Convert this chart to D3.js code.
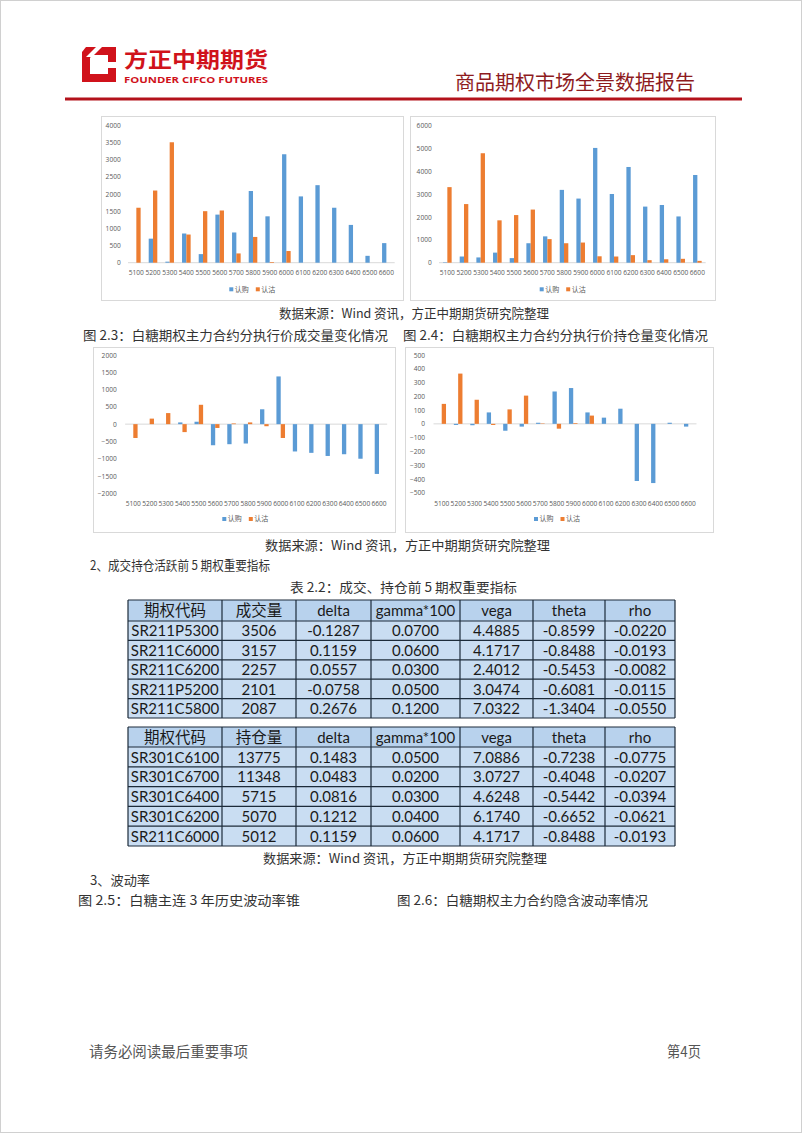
<!DOCTYPE html>
<html><head><meta charset="utf-8">
<script src="https://cdn.jsdelivr.net/npm/d3@7"></script>
<style>
html,body{margin:0;padding:0;background:#fff;}
svg{display:block;}
</style></head>
<body>
<script>
// ---------- DATA ----------
const strikes = ["5100","5200","5300","5400","5500","5600","5700","5800","5900","6000","6100","6200","6300","6400","6500","6600"];
// Fig 2.3 volume by strike
const volCall = [0,700,30,850,250,1400,880,2087,1350,3157,1930,2257,1600,1100,200,570];
const volPut  = [1600,2101,3506,820,1500,1520,270,750,20,340,0,0,0,0,0,0];
// Fig 2.4 open interest by strike
const oiCall = [20,270,230,440,200,850,1150,3180,2800,5012,3000,4180,2450,2520,2020,3830];
const oiPut  = [3300,2560,4780,1850,2080,2320,1030,850,880,280,270,330,110,150,170,80];
// Fig 2.3 change (volume change)
const volChgCall = [0,0,0,50,70,-610,-580,-560,430,1380,-790,-830,-920,-870,-1000,-1440];
const volChgPut  = [-400,160,320,-230,560,-110,20,50,-60,-400,0,0,0,0,0,0];
// Fig 2.4 change (open interest change)
const oiChgCall = [0,-8,-10,83,-50,-20,8,235,260,83,45,110,-415,-430,8,-20];
const oiChgPut  = [145,365,175,-8,105,205,3,-35,5,60,0,0,0,0,0,0];
const seriesNames = ["认购","认沽"];
const ticksVol = [0,500,1000,1500,2000,2500,3000,3500,4000];
const ticksOi = [0,1000,2000,3000,4000,5000,6000];
const ticksVolChg = [-2000,-1500,-1000,-500,0,500,1000,1500,2000];
const ticksOiChg = [-500,-400,-300,-200,-100,0,100,200,300,400,500];

// Tables
const tableColsA = ["期权代码","成交量","delta","gamma*100","vega","theta","rho"];
const tableRowsA = [
  ["SR211P5300","3506","-0.1287","0.0700","4.4885","-0.8599","-0.0220"],
  ["SR211C6000","3157","0.1159","0.0600","4.1717","-0.8488","-0.0193"],
  ["SR211C6200","2257","0.0557","0.0300","2.4012","-0.5453","-0.0082"],
  ["SR211P5200","2101","-0.0758","0.0500","3.0474","-0.6081","-0.0115"],
  ["SR211C5800","2087","0.2676","0.1200","7.0322","-1.3404","-0.0550"]
];
const tableColsB = ["期权代码","持仓量","delta","gamma*100","vega","theta","rho"];
const tableRowsB = [
  ["SR301C6100","13775","0.1483","0.0500","7.0886","-0.7238","-0.0775"],
  ["SR301C6700","11348","0.0483","0.0200","3.0727","-0.4048","-0.0207"],
  ["SR301C6400","5715","0.0816","0.0300","4.6248","-0.5442","-0.0394"],
  ["SR301C6200","5070","0.1212","0.0400","6.1740","-0.6652","-0.0621"],
  ["SR211C6000","5012","0.1159","0.0600","4.1717","-0.8488","-0.0193"]
];

// ---------- DRAW ----------
const W = 802, H = 1133;
const svg = d3.select("body").append("svg").attr("width", W).attr("height", H);
const CJK = "'Noto Sans CJK SC','Noto Sans',sans-serif";
const BLUE = "#5B9BD5", ORANGE = "#ED7D31";

svg.append("rect").attr("x",0.5).attr("y",0.5).attr("width",W-1).attr("height",H-1)
  .attr("fill","none").attr("stroke","#d0d0d0");

// Header
const logo = svg.append("g");
logo.append("path").attr("d","M86,47 L116,47 L116,82 L82,82 L82,52 Z").attr("fill","#d0121b");
logo.append("path").attr("d","M92,55 L108,55 L108,74 L90,74 L90,58 Z").attr("fill","#fff");
logo.append("path").attr("d","M96,47 L102,47 L92,57 L86,57 Z").attr("fill","#fff");
logo.append("path").attr("d","M108,62 L116,62 L116,68 L108,68 Z").attr("fill","#fff");
svg.append("text").attr("x",124).attr("y",66.5).attr("font-family",CJK).attr("font-weight",700)
  .attr("font-size",21).attr("fill","#d0121b").attr("textLength",144).attr("lengthAdjust","spacingAndGlyphs").text("方正中期期货");
svg.append("text").attr("x",124).attr("y",83).attr("font-family","'Open Sans',sans-serif").attr("font-weight",700)
  .attr("font-size",9.5).attr("fill","#d0121b").attr("textLength",144).attr("lengthAdjust","spacingAndGlyphs").text("FOUNDER CIFCO FUTURES");
svg.append("text").attr("x",695).attr("y",90).attr("text-anchor","end").attr("font-family",CJK)
  .attr("font-size",20).attr("fill","#8e1b1e").text("商品期权市场全景数据报告");
svg.append("rect").attr("x",65).attr("y",97.5).attr("width",677).attr("height",3).attr("fill","#b3121b");

// Chart builder
function barChart(o){
  const g = svg.append("g");
  g.append("rect").attr("x",o.box[0]+0.5).attr("y",o.box[1]+0.5).attr("width",o.box[2]-o.box[0])
    .attr("height",o.box[3]-o.box[1]).attr("fill","#fff").attr("stroke","#d9d9d9");
  const x = d3.scaleBand().domain(strikes).range(o.xr).padding(0);
  const y = d3.scaleLinear().domain(o.yd).range(o.yr);
  const bw = 4.3;
  g.append("line").attr("x1",o.xr[0]).attr("x2",o.xr[1]).attr("y1",y(0)).attr("y2",y(0))
    .attr("stroke","#d9d9d9").attr("stroke-width",1);
  const data = strikes.map((s,i)=>({s, c:o.call[i], p:o.put[i]}));
  g.selectAll(".bc").data(data).join("rect")
    .attr("x",d=>x(d.s)+x.bandwidth()/2-bw).attr("width",bw)
    .attr("y",d=>Math.min(y(d.c),y(0))).attr("height",d=>Math.abs(y(d.c)-y(0)))
    .attr("fill",BLUE);
  g.selectAll(".bp").data(data).join("rect")
    .attr("x",d=>x(d.s)+x.bandwidth()/2).attr("width",bw)
    .attr("y",d=>Math.min(y(d.p),y(0))).attr("height",d=>Math.abs(y(d.p)-y(0)))
    .attr("fill",ORANGE);
  const ya = d3.axisLeft(y).tickValues(o.ticks).tickFormat(d3.format("d")).tickSize(0).tickPadding(0);
  const yg = g.append("g").attr("transform",`translate(${o.yLabX},0)`).call(ya);
  yg.select(".domain").remove();
  yg.selectAll("text").attr("font-family","'Open Sans',sans-serif").attr("font-size",6.6).attr("fill","#595959");
  const xa = d3.axisBottom(x).tickSize(0).tickPadding(0);
  const xg = g.append("g").attr("transform",`translate(0,${o.xLabY})`).call(xa);
  xg.select(".domain").remove();
  xg.selectAll("text").attr("font-family","'Open Sans',sans-serif").attr("font-size",6.6).attr("fill","#595959").attr("dy","0.35em");
  const lg = g.append("g").attr("transform",`translate(${o.leg[0]},${o.leg[1]})`);
  [BLUE,ORANGE].forEach((c,i)=>{
    lg.append("rect").attr("x",i*26.5-2).attr("y",-2).attr("width",4).attr("height",4).attr("fill",c);
    lg.append("text").attr("x",i*26.5+3.5).attr("y",0).attr("dy","0.35em").attr("font-family",CJK)
      .attr("font-size",7).attr("fill","#595959").text(seriesNames[i]);
  });
}

barChart({box:[101,116,403,300], xr:[128,394.7], yd:[0,4000], yr:[262.7,125.3], ticks:ticksVol,
  call:volCall, put:volPut, yLabX:120.7, xLabY:272.7, leg:[231.3,289.3]});
barChart({box:[410,116,715,300], xr:[439,705.7], yd:[0,6000], yr:[262.7,125.3], ticks:ticksOi,
  call:oiCall, put:oiPut, yLabX:431.7, xLabY:272.7, leg:[541.7,289.3]});
barChart({box:[93,347,395,532], xr:[125.1,387.2], yd:[-2000,2000], yr:[493.3,355], ticks:ticksVolChg,
  call:volChgCall, put:volChgPut, yLabX:116.7, xLabY:503.3, leg:[224.3,519]});
barChart({box:[405,347,713,532], xr:[433.5,696.5], yd:[-500,500], yr:[492.7,355], ticks:ticksOiChg,
  call:oiChgCall, put:oiChgPut, yLabX:425, xLabY:503.3, leg:[536,519]});

// Captions
function txt(x,y,s,opts={}){
  const t = svg.append("text").attr("x",x).attr("y",y).attr("font-family",opts.font||CJK)
    .attr("font-size",opts.size||13).attr("fill",opts.fill||"#333").attr("dy","0.35em")
    .attr("text-anchor",opts.anchor||"start");
  if(opts.len) t.attr("textLength",opts.len).attr("lengthAdjust","spacingAndGlyphs");
  t.text(s);
  return t;
}
const srcTxt = "数据来源：Wind 资讯，方正中期期货研究院整理";
txt(279,313,srcTxt,{len:270});
txt(83,335,"图 2.3：白糖期权主力合约分执行价成交量变化情况",{len:305});
txt(403,335,"图 2.4：白糖期权主力合约分执行价持仓量变化情况",{len:305});
txt(265,545,srcTxt,{len:285});
txt(90,565,"2、成交持仓活跃前 5 期权重要指标",{len:180});
txt(290,587,"表 2.2：成交、持仓前 5 期权重要指标",{len:227});
txt(263,858,srcTxt,{len:284});
txt(90,880,"3、波动率",{len:60});
txt(78,900,"图 2.5：白糖主连 3 年历史波动率锥",{len:222});
txt(397,900,"图 2.6：白糖期权主力合约隐含波动率情况",{len:251});
txt(89,1052,"请务必阅读最后重要事项",{size:14.5,fill:"#555",len:159});
txt(667,1052,"第4页",{size:14.5,fill:"#555",len:34});

// Tables
const colX = [128,222,296,371,460,533,605,675];
function table(cols, rows, top, headH, rowH){
  const g = svg.append("g");
  const yEdges = [top, top+headH];
  for(let i=1;i<=rows.length;i++) yEdges.push(top+headH+i*rowH);
  const all = [cols].concat(rows);
  all.forEach((r,ri)=>{
    const y0 = yEdges[ri], y1 = yEdges[ri+1];
    r.forEach((v,ci)=>{
      g.append("rect").attr("x",colX[ci]).attr("y",y0).attr("width",colX[ci+1]-colX[ci]).attr("height",y1-y0)
        .attr("fill", ri===0 ? "#b8d2ed" : "#c9ddf2");
      const isCJK = /[\u4e00-\u9fff]/.test(v);
      g.append("text").attr("x",(colX[ci]+colX[ci+1])/2).attr("y",(y0+y1)/2+0.5).attr("dy","0.35em")
        .attr("text-anchor","middle")
        .attr("font-family", isCJK ? CJK : "Lato,'Open Sans',sans-serif")
        .attr("font-size", isCJK ? 15.5 : 15).attr("fill","#1a1a1a").text(v);
    });
  });
  yEdges.forEach(y=>g.append("line").attr("x1",colX[0]).attr("x2",colX[7]).attr("y1",y).attr("y2",y)
    .attr("stroke","#1c2b3a").attr("stroke-width",1.2));
  colX.forEach(x=>g.append("line").attr("x1",x).attr("x2",x).attr("y1",yEdges[0]).attr("y2",yEdges[yEdges.length-1])
    .attr("stroke","#1c2b3a").attr("stroke-width",1.2));
}
table(tableColsA, tableRowsA, 600, 21, 19.4);
table(tableColsB, tableRowsB, 727, 20, 19.8);
</script>
</body></html>
